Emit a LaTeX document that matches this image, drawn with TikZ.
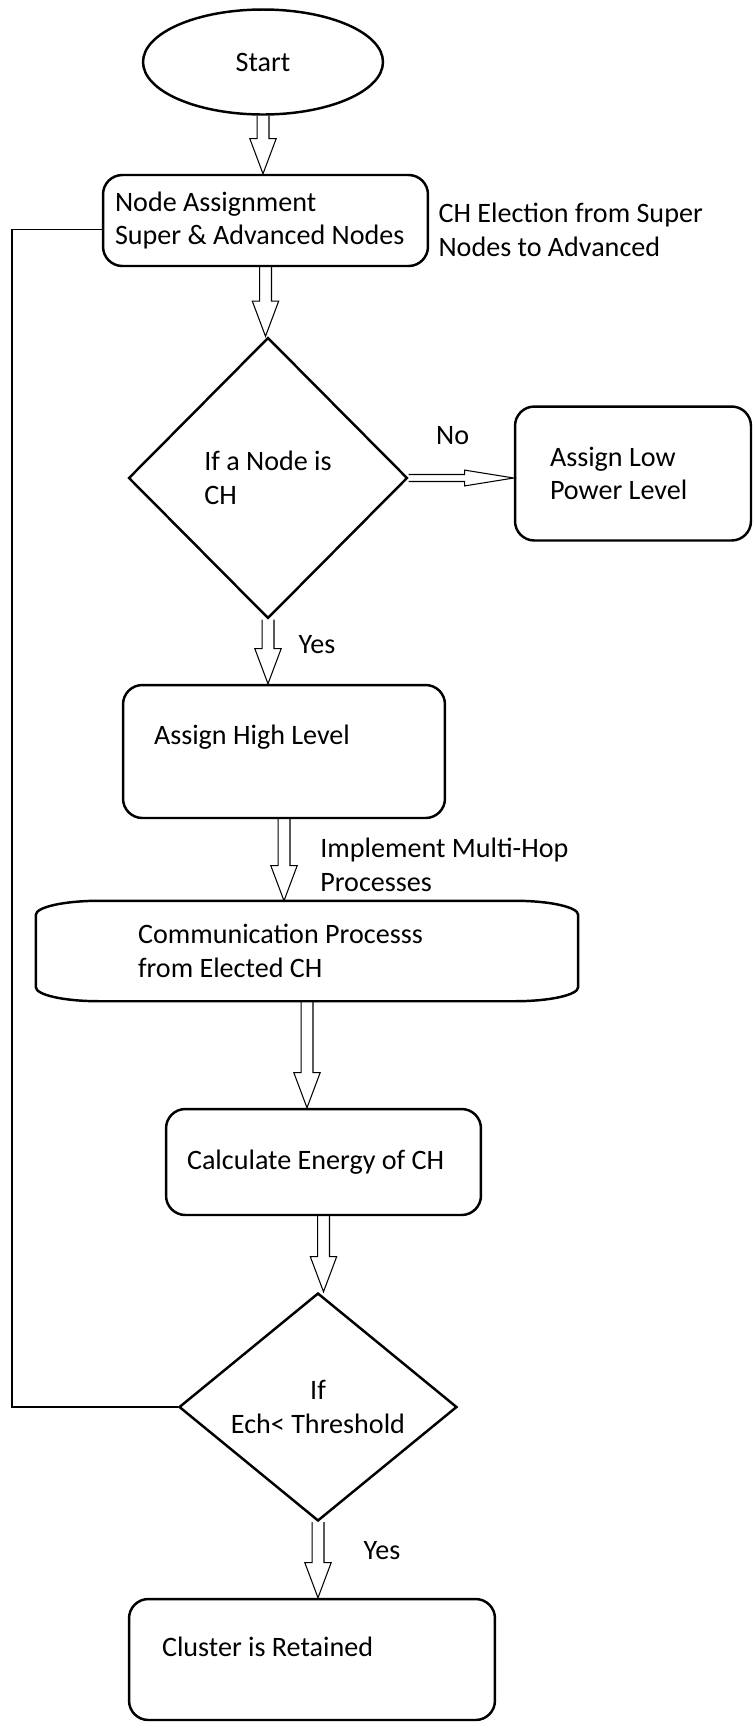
\documentclass[tikz,border=0pt]{standalone}
\usepackage{fontspec}
\setmainfont{Carlito}
\usetikzlibrary{shapes.geometric,calc}

\tikzset{
  every node/.style={font=\fontsize{16}{19}\selectfont},
  boxline/.style={line width=1.4pt},
  flowbox/.style={boxline, draw, rounded corners=11pt, align=flush left, inner ysep=0pt},
  decision/.style={boxline, draw, diamond, inner sep=0pt, aspect=1.2},
  note/.style={inner sep=0pt, align=flush left},
  hollow/.style={line width=0.6pt, line join=miter},
  loopline/.style={line width=0.7pt}
}

% hollow block arrow straight down, from #1 to the edge #2
\newcommand{\hollowdown}[2]{%
  \draw[hollow] let \p1=(#1), \p2=(#2) in
    (\x1-3.4pt,\y1) -- (\x1-3.4pt,\y2+20pt) -- (\x1-7.5pt,\y2+20pt)
    -- (\x1,\y2) -- (\x1+7.5pt,\y2+20pt) -- (\x1+3.4pt,\y2+20pt)
    -- (\x1+3.4pt,\y1);
}

\begin{document}
\begin{tikzpicture}[x=0.02cm, y=0.02cm]
  \useasboundingbox (0,0) rectangle (753,-1722);

  % Start
  \node[boxline, draw, ellipse, minimum width=4.8cm, minimum height=2.1cm]
    (start) at (263,-62) {Start};

  % Node assignment
  \node[flowbox, minimum height=1.82cm, text width=6.02cm, inner xsep=0.24cm]
    (assign) at (265.5,-220.5) {Node Assignment\\Super \& Advanced Nodes};
  \node[note, anchor=west] (elect) at ($(assign.east)+(9,-9.5)$)
    {CH Election from Super\\Nodes to Advanced};

  % First decision
  \node[decision, minimum width=5.58cm, minimum height=5.62cm, align=flush left]
    (isch) at (268,-478) {If a Node is\\CH};
  \node[flowbox, minimum height=2.68cm, text width=3.32cm, inner xsep=0.7cm]
    (low) at (633,-473.5) {Assign Low\\Power Level};
  \node[note] (no) at ($(isch.east)+(44,42)$) {No};

  % High level
  \node[flowbox, minimum height=2.66cm, text width=5.2cm, inner xsep=0.62cm]
    (high) at (284,-751.5) {Assign High Level\\\mbox{}};
  \node[note] (yes1) at ($(isch.south)+(49,-25)$) {Yes};
  \node[note, anchor=west] (hop) at ($(high.south)+(36,-45.5)$)
    {Implement Multi-Hop\\Processes};

  % Communication
  \node[boxline, minimum height=1.96cm, text width=6.76cm, inner xsep=2.02cm,
    inner ysep=0pt, align=flush left]
    (comm) at (307,-951) {Communication Processs\\from Elected CH};
  \draw[boxline]
    ([xshift=36pt]comm.north west) -- ([xshift=-36pt]comm.north east)
    arc[start angle=90, end angle=0, x radius=36pt, y radius=8pt]
    -- ([yshift=8pt]comm.south east)
    arc[start angle=0, end angle=-90, x radius=36pt, y radius=8pt]
    -- ([xshift=36pt]comm.south west)
    arc[start angle=270, end angle=180, x radius=36pt, y radius=8pt]
    -- ([yshift=-8pt]comm.north west)
    arc[start angle=180, end angle=90, x radius=36pt, y radius=8pt];

  % Energy
  \node[flowbox, minimum height=2.12cm, text width=5.46cm, inner xsep=0.42cm]
    (energy) at (323.5,-1162) {Calculate Energy of CH};

  % Second decision
  \node[decision, minimum width=5.56cm, minimum height=4.56cm, align=flush center]
    (thresh) at (318,-1407) {If\\Ech< Threshold};
  \node[flowbox, minimum height=2.42cm, text width=6cm, inner xsep=0.66cm]
    (retain) at (312,-1659.5) {Cluster is Retained\\[-5pt]\mbox{}};
  \node[note] (yes2) at ($(thresh.south)+(64,-28)$) {Yes};

  % Arrows
  \hollowdown{start.south}{assign.north}
  \hollowdown{assign.south}{isch.north}
  \hollowdown{isch.south}{high.north}
  \hollowdown{high.south}{comm.north}
  \hollowdown{comm.south}{energy.north}
  \hollowdown{energy.south}{thresh.north}
  \hollowdown{thresh.south}{retain.north}

  \draw[hollow] let \p1=(isch.east), \p2=(low.west) in
    (\x1,\y1+2pt) -- (\x2-28pt,\y1+2pt) -- (\x2-28pt,\y1+4.5pt)
    -- (\x2,\y1) -- (\x2-28pt,\y1-4.5pt) -- (\x2-28pt,\y1-2pt)
    -- (\x1,\y1-2pt);

  % Back to node assignment
  \coordinate (back) at (12,-1407);
  \draw[loopline] (thresh.west) -- (back) |- ([yshift=-5pt]assign.west);
\end{tikzpicture}
\end{document}
